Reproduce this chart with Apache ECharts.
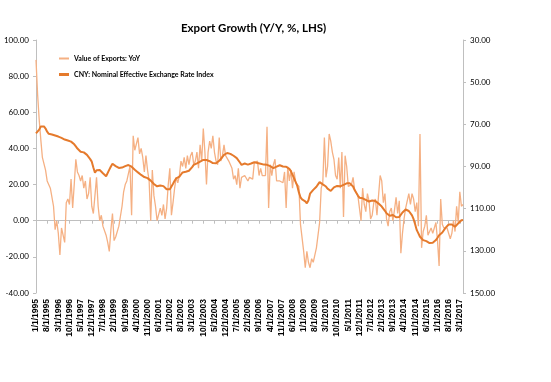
<!DOCTYPE html>
<html>
<head>
<meta charset="utf-8">
<script src="https://cdn.jsdelivr.net/npm/echarts@6/dist/echarts.min.js"></script>
<style>
html,body{margin:0;padding:0;background:#fff;}
#chart{width:551px;height:382px;}
</style>
</head>
<body>
<div id="chart"></div>
<script>
// Monthly categories: 1/1/1995 .. 5/1/2017
var startYear = 1995, startMonth = 1, monthCount = 269;
var categories = [];
for (var k = 0; k < monthCount; k++) {
  var m = (startMonth - 1 + k) % 12 + 1;
  var y = startYear + Math.floor((startMonth - 1 + k) / 12);
  categories.push(m + '/1/' + y);
}

var exportsYoY = [
  89, 70, 56, 45, 35, 34, 28, 22, 23, 18,
  19, 8, -5, 0, -7, -19, -4, -5, -12, 10,
  12, 9, 23, 7, 20, 34, 27, 25, 22, 25,
  18, 22, 12, 15, 24, 8, 4, 14, 24, 8,
  0, 3, -3, -2, -8, -12, -17, -5, 4, -11,
  -9, -8, -3, -2, 8, 16, 20, 22, 26, 30,
  3, 47, 39, 38, 46, 37, 40, 35, 27, 36,
  28, 22, 0, 28, 14, 8, 0, -1, 7, 3,
  9, 1, 7, 20, 29, 3, 10, 18, 24, 21,
  25, 33, 30, 35, 29, 36, 31, 36, 38, 31,
  33, 38, 29, 42, 33, 51, 38, 20, 38, 44,
  40, 47, 38, 33, 31, 46, 33, 36, 42, 36,
  35, 33, 33, 29, 23, 25, 20, 29, 18, 24,
  25, 25, 24, 22, 24, 25, 23, 32, 31, 33,
  25, 29, 25, 26, 25, 52, 7, 31, 25, 31,
  34, 22, 22, 22, 22, 21, 27, 7, 30, 22,
  28, 18, 27, 21, 21, 19, -2, -3, -17, -26,
  -17, -23, -26, -21, -23, -23, -15, -14, -1, 18,
  21, 46, 24, 30, 48, 44, 38, 34, 25, 23,
  35, 18, 38, 2, 36, 30, 19, 18, 20, 24,
  17, 16, 14, 13, 0, 18, 9, 5, 15, 11,
  1, 3, 10, 12, 3, 14, 25, 22, 10, 15,
  1, -3, 5, 7, 0, 6, 13, 4, 11, -18,
  -7, 1, 7, 7, 15, 9, 15, 12, 5, 10,
  -3, 48, -15, -6, -3, 3, -8, -6, -4, -7,
  -7, -1, -11, -25, 12, -2, -4, -5, -4, -3,
  -10, -7, 0, -6, 8, -1, 16, 8, 9
];

var cnyNeer = [
  74.3, 74, 72.5, 71, 70.3, 71, 72, 73.5, 74.5, 74.6,
  74.8, 75, 75.3, 75.6, 75.8, 76, 76.4, 76.8, 77.2, 77.4,
  77.7, 78, 78.2, 78.3, 79.5, 80.5, 81.5, 82.2, 83, 83.7,
  83.3, 83.2, 84.5, 85.3, 86.5, 87.7, 90.5, 93, 91.8, 91.7,
  91.7, 92.5, 93.2, 94, 94.6, 94, 91.5, 90, 88.7, 89,
  89.8, 90.2, 90.7, 90.9, 90.5, 90.1, 89.8, 89.5, 89.3, 89.7,
  90.1, 90.8, 91.5, 92.2, 92.8, 93.2, 94, 94.6, 95, 95.3,
  95.5, 96, 96.7, 97.5, 98.3, 98.8, 99.4, 99.5, 99, 98.8,
  99.3, 100, 100.8, 101.1, 100.8, 100.4, 98.2, 96.8, 95.6, 95.2,
  94.8, 93.8, 92.8, 92.5, 92.5, 92.3, 92, 91.5, 90.3, 89.2,
  88.9, 88.5, 88.1, 87.7, 87.3, 86.9, 86.9, 86.9, 87.1, 87.5,
  87.9, 88.4, 88.5, 88.5, 88.2, 87.3, 86.7, 85.5, 84.5, 83.9,
  83.6, 83.4, 84, 84.5, 84.9, 85.3, 86, 86.9, 88.1, 89.2,
  89, 88.6, 88.8, 89.1, 89, 88.6, 88.3, 88, 87.9, 88.3,
  88.5, 88.7, 88.8, 89.1, 89.3, 89.2, 88.7, 89.8, 90.5, 90.8,
  90.2, 90.1, 89.8, 89.4, 89.5, 90, 90.1, 90.1, 90.5, 91.1,
  92.2, 94, 95.6, 97.4, 99.2, 102.3, 104.6, 105.6, 105.3, 106.5,
  107.5, 106, 102.9, 102, 101.1, 100.2, 99.6, 98.5, 97.4, 97.6,
  98.5, 99, 99.5, 100.5, 101.4, 101.6, 100.8, 99.9, 99, 99.2,
  99.5, 99.4, 99, 98.7, 98.2, 98, 98, 98, 98.7, 99.5,
  101.2, 102.5, 103.8, 104.8, 105.1, 105.1, 105.4, 105.8, 106.2, 106.6,
  106.4, 106.1, 105.9, 106.4, 106.9, 107.6, 108.3, 109, 109.8, 111,
  112.2, 112.8, 113.4, 113.3, 113, 113.6, 114.1, 114, 113.9, 113.4,
  111.8, 111.1, 110.4, 110.6, 111.1, 111.7, 113.2, 115, 117.5, 120.2,
  121.7, 123.3, 124.2, 124.9, 125.2, 125.4, 125.9, 126.3, 126.3, 126.2,
  125.7, 124.9, 123.8, 122.6, 122, 121.3, 120.4, 119.1, 118.4, 117.5,
  117.1, 117.5, 118, 118.6, 117.8, 117, 116.2, 115.5, 115.4
];

var seriesNames = ['Value of Exports: YoY', 'CNY: Nominal Effective Exchange Rate Index'];
var leftTicks = { min: -40, max: 100, interval: 20 };
var rightTicks = { min: 30, max: 150, interval: 20 };

var FONT = 'Lato';
var axisGray = '#BFBFBF';

var chart = echarts.init(document.getElementById('chart'), null, { renderer: 'canvas' });
chart.setOption({
  animation: false,
  backgroundColor: '#fff',
  title: {
    text: 'Export Growth (Y/Y, %, LHS)',
    left: 176, top: 17,
    textStyle: { fontFamily: FONT, fontSize: 11.5, fontWeight: 'bold', color: '#000' }
  },
  legend: [
    {
      data: [seriesNames[0]], orient: 'vertical', left: 54, top: 50,
      icon: 'rect', itemWidth: 10, itemHeight: 2,
      textStyle: { fontFamily: FONT, fontSize: 7, fontWeight: 'bold', color: '#000' }
    },
    {
      data: [seriesNames[1]], orient: 'vertical', left: 54, top: 66,
      icon: 'rect', itemWidth: 10, itemHeight: 3,
      textStyle: { fontFamily: FONT, fontSize: 7, fontWeight: 'bold', color: '#000' }
    }
  ],
  grid: { left: 36, right: 88, top: 40, bottom: 89, containLabel: false },
  xAxis: [
    {
      type: 'category', data: categories, boundaryGap: false, position: 'bottom',
      axisLine: { show: false, onZero: false },
      axisTick: { show: false },
      splitLine: { show: false },
      axisLabel: {
        interval: 6, rotate: 90, margin: 6,
        fontFamily: 'Liberation Sans', fontSize: 8.5, fontWeight: 'bold', color: '#000'
      }
    },
    {
      type: 'category', data: categories, boundaryGap: false, position: 'bottom',
      axisLine: { show: true, onZero: true, onZeroAxisIndex: 0, lineStyle: { color: axisGray, width: 1 } },
      axisTick: { show: true, interval: 6, length: 3, inside: false, lineStyle: { color: axisGray } },
      axisLabel: { show: false },
      splitLine: { show: false }
    }
  ],
  yAxis: [
    {
      type: 'value', position: 'left',
      min: leftTicks.min, max: leftTicks.max, interval: leftTicks.interval,
      axisLine: { show: true, onZero: false, lineStyle: { color: axisGray } },
      axisTick: { show: true, length: 3, lineStyle: { color: axisGray } },
      splitLine: { show: false },
      axisLabel: {
        margin: 7, fontFamily: FONT, fontSize: 8, color: '#000',
        formatter: function (v) { return v.toFixed(2); }
      }
    },
    {
      type: 'value', position: 'right', inverse: true,
      min: rightTicks.min, max: rightTicks.max, interval: rightTicks.interval,
      axisLine: { show: true, onZero: false, lineStyle: { color: axisGray } },
      axisTick: { show: true, length: 3, lineStyle: { color: axisGray } },
      splitLine: { show: false },
      axisLabel: {
        margin: 7, fontFamily: FONT, fontSize: 8, color: '#000',
        formatter: function (v) { return v.toFixed(2); }
      }
    }
  ],
  series: [
    {
      name: seriesNames[0], type: 'line', xAxisIndex: 0, yAxisIndex: 0,
      data: exportsYoY, symbol: 'none', color: '#F5B083',
      lineStyle: { width: 1.3, color: '#F5B083' }, z: 2
    },
    {
      name: seriesNames[1], type: 'line', xAxisIndex: 0, yAxisIndex: 1,
      data: cnyNeer, symbol: 'none', color: '#E57A2C',
      lineStyle: { width: 2, color: '#E57A2C' }, z: 3
    }
  ]
});
</script>
</body>
</html>
